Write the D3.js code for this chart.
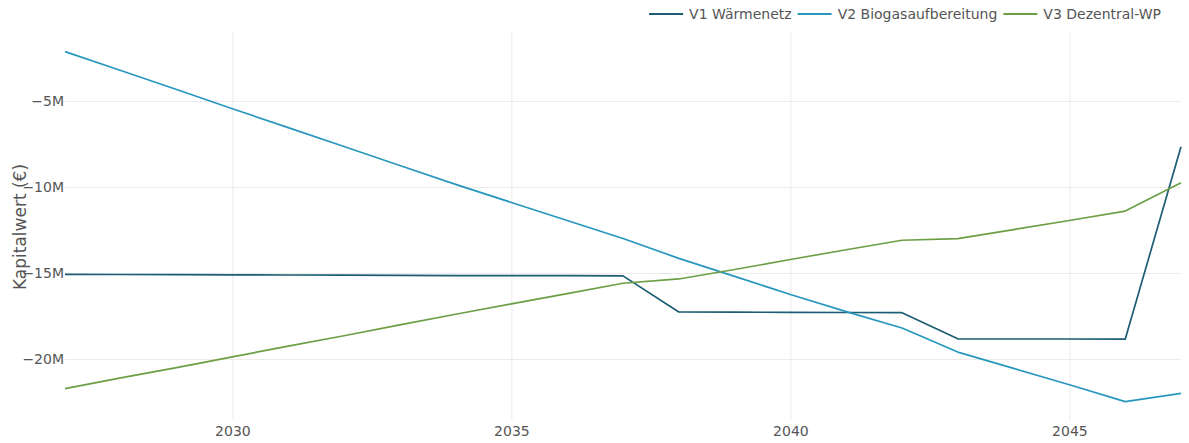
<!DOCTYPE html>
<html>
<head>
<meta charset="utf-8">
<script src="https://cdn.jsdelivr.net/npm/d3@7"></script>
<style>
  html, body { margin: 0; padding: 0; background: #fff; }
  svg { display: block; font-family: "DejaVu Sans", Verdana, sans-serif; }
</style>
</head>
<body>
<svg id="chart" width="1189" height="443"></svg>
<script>
// Net present value per variant (million €), yearly from 2027 to 2047
const years = d3.range(2027, 2048);
const seriesNames = ["V1 Wärmenetz", "V2 Biogasaufbereitung", "V3 Dezentral-WP"];
const v1Waermenetz = [-15.08, -15.09, -15.10, -15.11, -15.12, -15.13, -15.14, -15.15, -15.15, -15.16, -15.17,
                      -17.27, -17.28, -17.29, -17.30, -17.31,
                      -18.83, -18.84, -18.84, -18.85, -7.66];
const v2Biogas = [-2.13, -3.23, -4.33, -5.45, -6.55, -7.65, -8.75, -9.85, -10.90, -11.95, -13.00,
                  -14.15, -15.20, -16.25, -17.25, -18.20,
                  -19.60, -20.55, -21.50, -22.48, -22.00];
const v3Dezentral = [-21.73, -21.10, -20.50, -19.88, -19.25, -18.65, -18.02, -17.40, -16.80, -16.20, -15.60,
                     -15.35, -14.80, -14.22, -13.65, -13.10,
                     -13.00, -12.48, -11.95, -11.40, -9.75];
const xTicks = [2030, 2035, 2040, 2045];
const yTicks = [-5, -10, -15, -20];
const colors = ["#1c5d73", "#2797bd", "#6b9f45"];

const svg = d3.select("#chart");
const W = 1189, H = 443;
const m = { left: 65, right: 8, top: 32, bottom: 23 };

const x = d3.scaleLinear().domain([2027, 2047]).range([m.left, W - m.right]);
const y = d3.scaleLinear().domain([-23.55, -0.99]).range([H - m.bottom, m.top]);

// grid
const xAxis = d3.axisBottom(x).tickValues(xTicks).tickFormat(d3.format("d"))
  .tickSize(-(H - m.top - m.bottom)).tickPadding(6);
const gx = svg.append("g").attr("transform", `translate(0,${H - m.bottom})`).call(xAxis);
const yAxis = d3.axisLeft(y).tickValues(yTicks).tickFormat(d => "\u2212" + Math.abs(d) + "M")
  .tickSize(-(W - m.left - m.right)).tickPadding(1);
const gy = svg.append("g").attr("transform", `translate(${m.left},0)`).call(yAxis);

[gx, gy].forEach(g => {
  g.select(".domain").remove();
  g.selectAll(".tick line").attr("stroke", "#ebebeb").attr("stroke-width", 1);
  g.selectAll(".tick text").attr("fill", "#555").style("font-size", "14px")
    .style("font-family", "'DejaVu Sans', Verdana, sans-serif");
});

// y-axis title
svg.append("text")
  .attr("transform", "translate(20,227) rotate(-90)")
  .attr("text-anchor", "middle")
  .attr("dominant-baseline", "central")
  .attr("fill", "#555")
  .style("font-size", "17px")
  .text("Kapitalwert (€)");

// lines
const allSeries = [v1Waermenetz, v2Biogas, v3Dezentral];
const line = d3.line().x((d, i) => x(years[i])).y(d => y(d));
const plot = svg.append("g");
allSeries.forEach((vals, k) => {
  plot.append("path")
    .datum(vals)
    .attr("fill", "none")
    .attr("stroke", colors[k])
    .attr("stroke-width", 1.7)
    .attr("stroke-linejoin", "round")
    .attr("d", line);
});

// legend, right aligned at top
const legend = svg.append("g").style("font-size", "14px");
const items = seriesNames.map((name, k) => {
  const g = legend.append("g");
  g.append("line").attr("x1", 0).attr("x2", 34).attr("y1", 0).attr("y2", 0)
    .attr("stroke", colors[k]).attr("stroke-width", 2.2);
  const t = g.append("text").attr("x", 40).attr("y", 0).attr("dominant-baseline", "central")
    .attr("fill", "#555").text(name);
  return { g, w: 40 + t.node().getComputedTextLength() };
});
let cursor = 1161;
for (let i = items.length - 1; i >= 0; i--) {
  cursor -= items[i].w;
  items[i].g.attr("transform", `translate(${cursor},14)`);
  cursor -= 6;
}
</script>
</body>
</html>
